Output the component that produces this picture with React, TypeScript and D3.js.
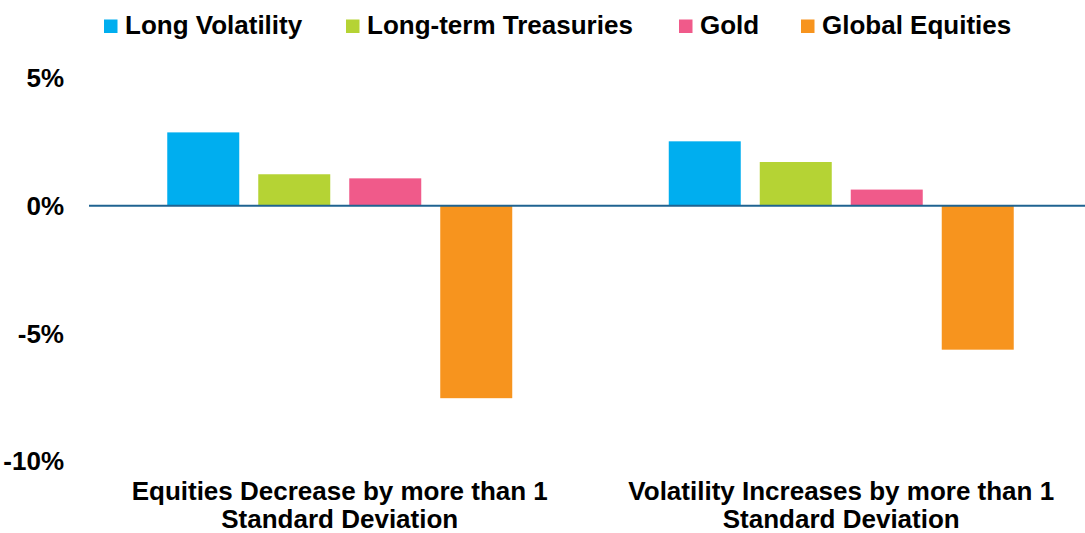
import React from "react";
import * as d3 from "d3";

const categories = [
  ["Equities Decrease by more than 1", "Standard Deviation"],
  ["Volatility Increases by more than 1", "Standard Deviation"],
];
const seriesNames = ["Long Volatility", "Long-term Treasuries", "Gold", "Global Equities"];
const seriesColors = ["#00AEEF", "#B5D334", "#F05A8A", "#F7941E"];
const longVolatility = [2.87, 2.52];
const longTermTreasuries = [1.23, 1.71];
const gold = [1.07, 0.63];
const globalEquities = [-7.54, -5.64];
const yTicks = [5, 0, -5, -10];

const seriesValues = [longVolatility, longTermTreasuries, gold, globalEquities];

const W = 1085;
const H = 533;
const FONT = "Arial, 'Liberation Sans', Helvetica, sans-serif";

export default function App() {
  const catKeys = categories.map((_, i) => String(i));
  const x0 = d3.scaleBand<string>().domain(catKeys).range([89, 1092]).paddingInner(0).paddingOuter(0);
  const x1 = d3
    .scaleBand<string>()
    .domain(seriesNames)
    .range([0, x0.bandwidth()])
    .paddingInner(19 / 91)
    .paddingOuter(0.86);
  const y = d3.scaleLinear().domain([-10, 5]).range([461, 78]);

  const legendTextX = [125, 367, 700, 822];

  return (
    <svg
      width={W}
      height={H}
      style={{ position: "absolute", left: 0, top: 0, background: "#fff" }}
      fontFamily={FONT}
    >
      {/* legend */}
      {seriesNames.map((name, i) => (
        <g key={name}>
          <rect x={legendTextX[i] - 21} y={19.5} width={13.5} height={13.5} fill={seriesColors[i]} />
          <text x={legendTextX[i]} y={33.5} fontSize={26} fontWeight="bold" fill="#000">
            {name}
          </text>
        </g>
      ))}

      {/* y tick labels */}
      {yTicks.map((t) => (
        <text
          key={t}
          x={64}
          y={y(t)}
          dy="0.36em"
          textAnchor="end"
          fontSize={26}
          fontWeight="bold"
          fill="#000"
        >
          {`${t}%`}
        </text>
      ))}

      {/* bars */}
      {catKeys.map((ck, ci) => (
        <g key={ck} transform={`translate(${x0(ck)},0)`}>
          {seriesNames.map((s, si) => {
            const v = seriesValues[si][ci];
            return (
              <rect
                key={s}
                x={x1(s)}
                y={Math.min(y(v), y(0))}
                width={x1.bandwidth()}
                height={Math.abs(y(v) - y(0))}
                fill={seriesColors[si]}
              />
            );
          })}
        </g>
      ))}

      {/* zero line */}
      <line x1={89} x2={W} y1={y(0)} y2={y(0)} stroke="#1F6391" strokeWidth={2} />

      {/* category labels */}
      {catKeys.map((ck, ci) => {
        const cx = (x0(ck) as number) + x0.bandwidth() / 2;
        return (
          <text
            key={ck}
            x={cx}
            y={500}
            textAnchor="middle"
            fontSize={26}
            fontWeight="bold"
            fill="#000"
          >
            {categories[ci].map((line, li) => (
              <tspan key={li} x={cx} dy={li === 0 ? 0 : 28}>
                {line}
              </tspan>
            ))}
          </text>
        );
      })}
    </svg>
  );
}
